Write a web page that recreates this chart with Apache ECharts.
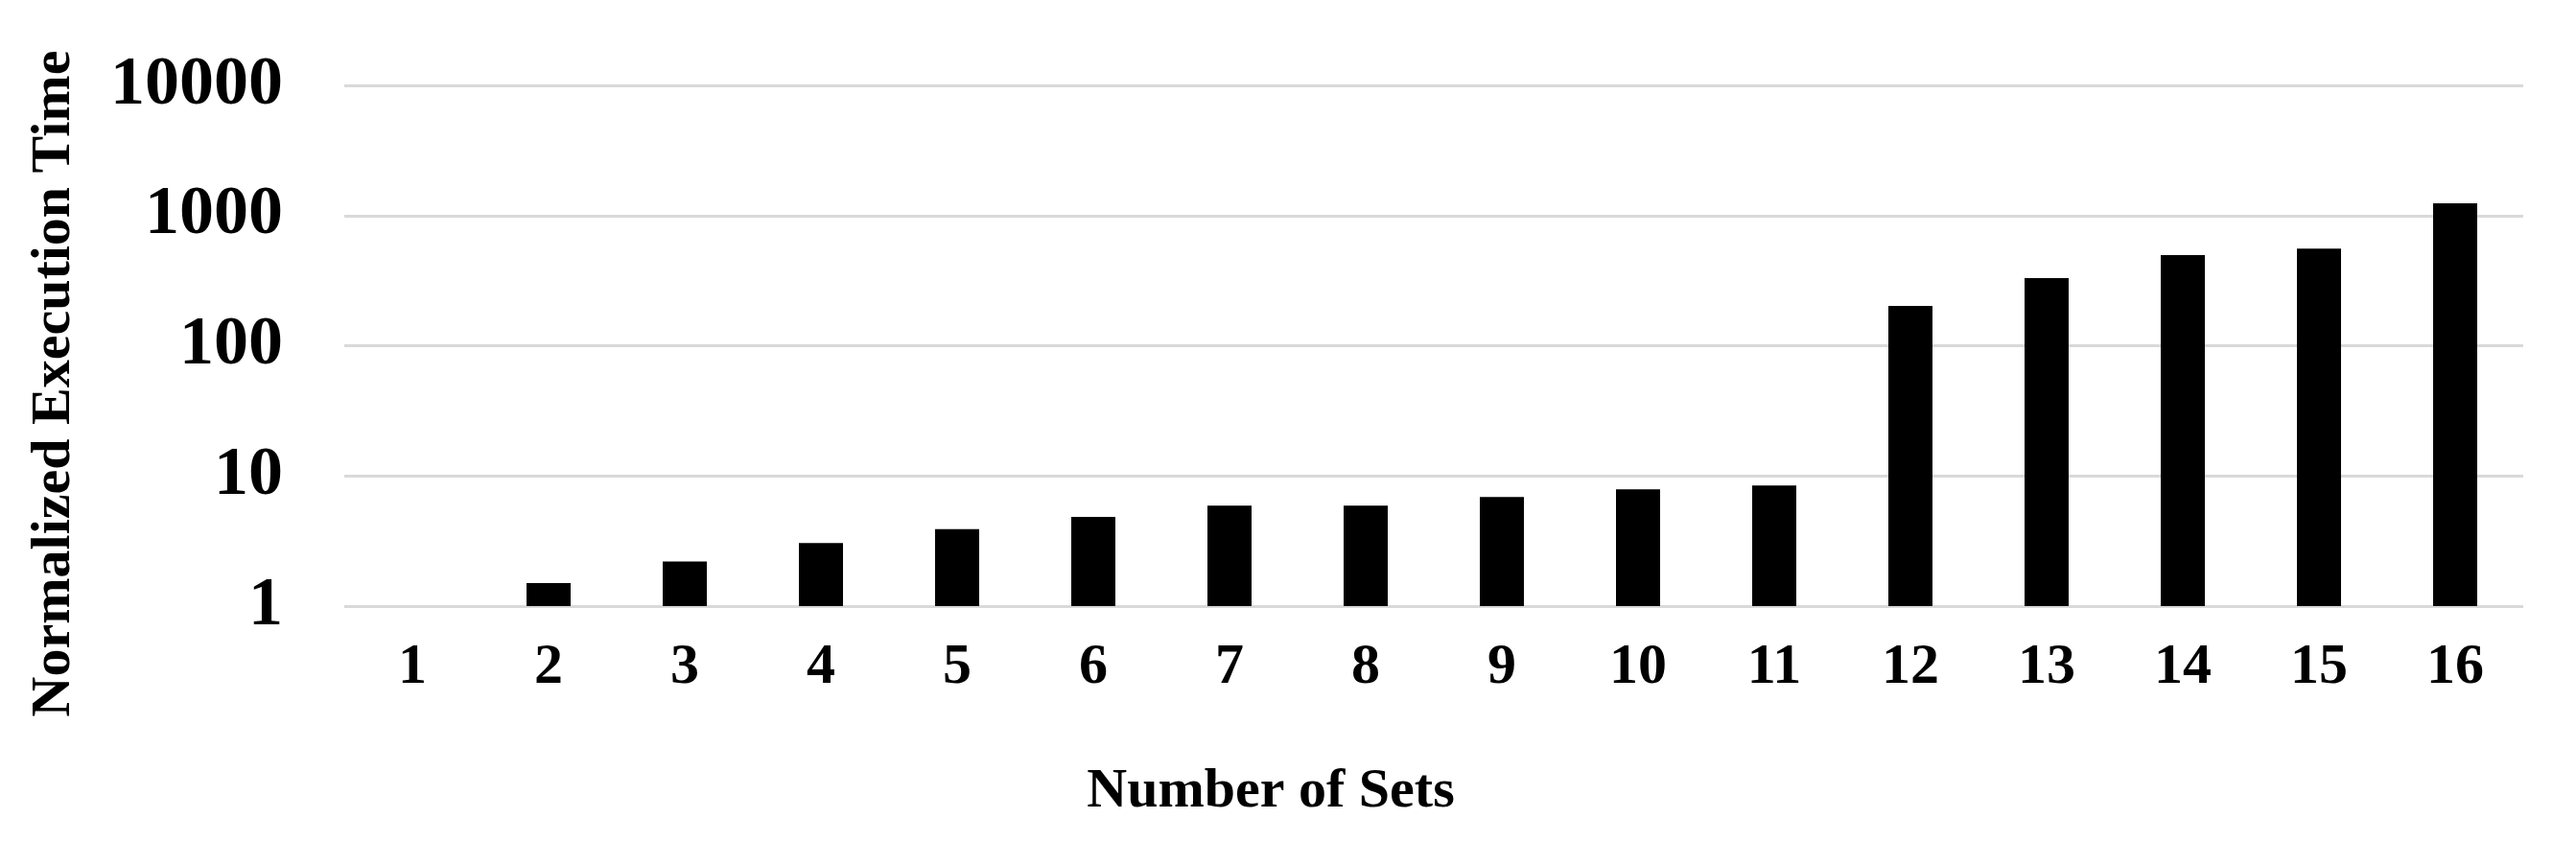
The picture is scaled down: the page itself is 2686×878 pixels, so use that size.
<!DOCTYPE html>
<html>
<head>
<meta charset="utf-8">
<script src="https://cdn.jsdelivr.net/npm/echarts@6/dist/echarts.min.js"></script>
<style>
    html, body { margin: 0; padding: 0; background: #fff; }
    #chart { width: 2686px; height: 878px; }
</style>
</head>
<body>
<div id="chart"></div>
<script>
const categories = [ '1', '2', '3', '4', '5', '6', '7', '8', '9', '10', '11', '12', '13', '14', '15', '16' ];
const execTime = [ 1, 1.5, 2.2, 3.05, 3.9, 4.85, 5.9, 5.9, 6.9, 7.9, 8.45, 202, 331, 496, 558, 1242 ];
const yTitle = 'Normalized Execution Time';
const xTitle = 'Number of Sets';

const fontFamily = "'Liberation Serif', 'Times New Roman', serif";

const chart = echarts.init( document.getElementById( 'chart' ) );

const option = {
    backgroundColor: '#fff',
    animation: false,
    grid: {
        left: 359,
        right: 55,
        top: 89,
        bottom: 246
    },
    xAxis: {
        type: 'category',
        data: categories,
        axisLine: { show: false },
        axisTick: { show: false },
        axisLabel: {
            color: '#000',
            fontFamily,
            fontWeight: 'bold',
            fontSize: 60,
            margin: 34
        }
    },
    yAxis: {
        type: 'log',
        logBase: 10,
        min: 1,
        max: 10000,
        axisLine: { show: false },
        axisTick: { show: false },
        splitLine: {
            lineStyle: { color: '#d9d9d9', width: 3 }
        },
        axisLabel: {
            color: '#000',
            fontFamily,
            fontWeight: 'bold',
            fontSize: 72,
            margin: 64,
            // no thousands separator, as in the original
            formatter: ( v ) => String( Math.round( v ) )
        }
    },
    // axis titles sit off the grid centre, so place them by hand
    graphic: [
        {
            type: 'text',
            x: 57,
            y: 400,
            rotation: Math.PI / 2,
            style: {
                text: yTitle,
                fill: '#000',
                font: 'bold 58px ' + fontFamily,
                textAlign: 'center',
                textVerticalAlign: 'middle'
            }
        },
        {
            type: 'text',
            x: 1325,
            y: 826,
            style: {
                text: xTitle,
                fill: '#000',
                font: 'bold 58px ' + fontFamily,
                textAlign: 'center',
                textVerticalAlign: 'middle'
            }
        }
    ],
    series: [
        {
            type: 'bar',
            data: execTime,
            barWidth: 46,
            itemStyle: { color: '#000' }
        }
    ]
};

chart.setOption( option );
</script>
</body>
</html>
